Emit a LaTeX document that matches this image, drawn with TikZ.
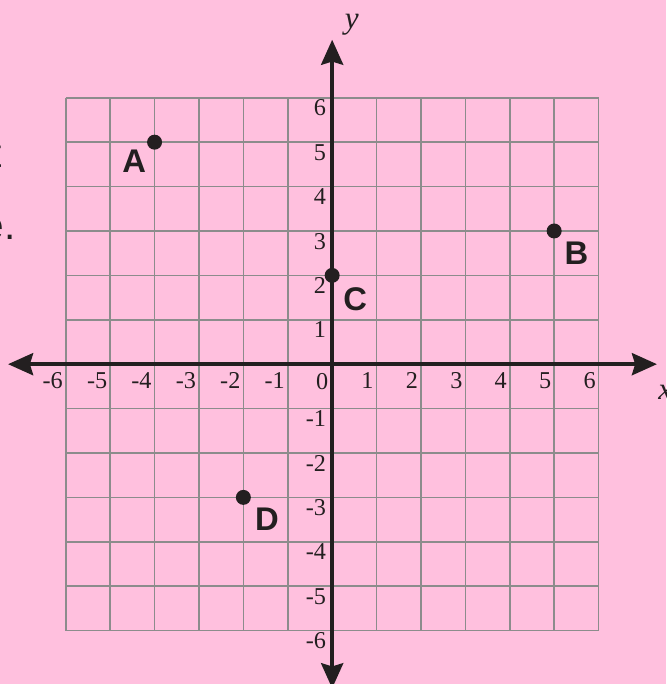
\documentclass[tikz,border=0pt]{standalone}
\usepackage{fontspec}
\setmainfont{Liberation Serif}
\newfontfamily\lsans{Liberation Sans}
\usetikzlibrary{arrows.meta}
\definecolor{bgpink}{RGB}{255,192,222}
\definecolor{gridgray}{RGB}{140,140,140}
\definecolor{ink}{RGB}{35,31,32}
\begin{document}
\begin{tikzpicture}[x=1cm,y=1cm,
  gridline/.style={draw=gridgray, line width=1pt},
  axisline/.style={draw=ink, line width=2.8pt,
    {Stealth[length=16pt,width=14pt,inset=2pt]}-{Stealth[length=16pt,width=14pt,inset=2pt]}},
  xtick/.style={anchor=north east, inner sep=0pt, text=ink, font=\fontsize{15.5}{18}\selectfont},
  ytick/.style={anchor=north east, inner sep=0pt, text=ink, font=\fontsize{15.5}{18}\selectfont},
  ptdot/.style={circle, fill=ink, inner sep=0pt, minimum size=9.6pt},
  ptlabel/.style={inner sep=0pt, text=ink, font=\lsans\bfseries\fontsize{21}{24}\selectfont},
  axlabel/.style={inner sep=0pt, text=ink, font=\itshape\fontsize{20}{24}\selectfont},
  qtext/.style={anchor=base east, inner sep=0pt, text=ink, font=\lsans\fontsize{26}{30}\selectfont}
]
\useasboundingbox (-7.481,-7.203) rectangle (7.526,8.202);
\fill[bgpink] (-7.481,-7.203) rectangle (7.526,8.202);

% question text fragments (cut off at the left edge)
\node[qtext] (q1) at (-7.436,4.424) {t};
\node[qtext] (q2) at (-7.12,2.802) {e.};

% grid
\draw[gridline] (-6,-6) grid (6,6);

% axes
\coordinate (xl) at (-7.30,0);
\coordinate (xr) at (7.316,0);
\coordinate (yb) at (0,-7.30);
\coordinate (yt) at (0,7.308);
\draw[axisline] (xl) -- (xr);
\draw[axisline] (yb) -- (yt);

% tick labels
\foreach \i [count=\k] in {-6,-5,-4,-3,-2,-1,1,2,3,4,5,6} {
  \node[xtick] (xt\k) at (\i-0.06,-0.19) {\i};
}
\node[xtick] (xt0) at (-0.08,-0.19) {0};
\foreach \i [count=\k] in {-6,-5,-4,-3,-2,-1,1,2,3,4,5,6} {
  \node[ytick] (yt\k) at (-0.13,\i-0.04) {\i};
}

% axis labels
\node[axlabel] (ylab) at (0.444,7.646) {y};
\node[axlabel] (xlab) at (7.503,-0.639) {x};

% points
\node[ptdot] (A) at (-4,5) {};
\node[ptdot] (B) at (5,3) {};
\node[ptdot] (C) at (0,2) {};
\node[ptdot] (D) at (-2,-3) {};
\node[ptlabel] (Al) at (-4.46,4.58) {A};
\node[ptlabel] (Bl) at (5.50,2.51) {B};
\node[ptlabel] (Cl) at (0.52,1.47) {C};
\node[ptlabel] (Dl) at (-1.47,-3.49) {D};
\end{tikzpicture}
\end{document}
